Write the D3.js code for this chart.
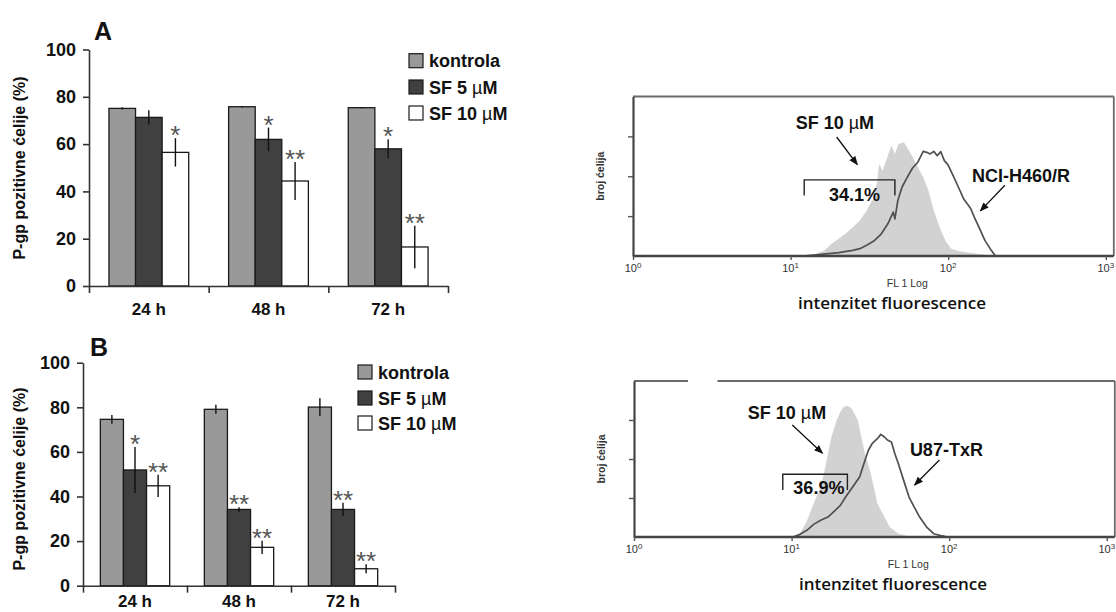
<!DOCTYPE html>
<html><head><meta charset="utf-8">
<script src="https://cdn.jsdelivr.net/npm/d3@7"></script>
<style>body{margin:0;background:#fff} svg{display:block}</style>
</head><body>
<svg id="c" width="1116" height="612"></svg>
<script>
// ---------- DATA ----------
const categories = ["24 h", "48 h", "72 h"];
const seriesNames = ["kontrola", "SF 5 µM", "SF 10 µM"];
const yTicks = [0, 20, 40, 60, 80, 100];

// Panel A (NCI-H460/R)
const aKontrola = [75.1, 75.8, 75.4];
const aKontrolaErr = [0.5, 0.3, 0.3];
const aSF5 = [71.3, 62.0, 58.0];
const aSF5Err = [3, 5, 4];
const aSF10 = [56.5, 44.4, 16.5];
const aSF10Err = [6, 8, 9];
const aSig = [["", "", ""], ["", "*", "*"], ["*", "**", "**"]]; // [series][category]

// Panel B (U87-TxR)
const bKontrola = [74.6, 79.1, 80.1];
const bKontrolaErr = [2, 2, 4];
const bSF5 = [51.9, 34.2, 34.2];
const bSF5Err = [10.3, 1, 3];
const bSF10 = [44.8, 17.2, 7.6];
const bSF10Err = [5, 3, 2];
const bSig = [["", "", ""], ["*", "**", "**"], ["**", "**", "**"]];

// Flow cytometry histograms: [fluorescence (FL1), relative cell count]
const logTicks = [1, 10, 100, 1000];
const countTicks = [25, 50, 75];
const h460SF10 = [[12.0,0],[14.1,0.8],[16.4,3.5],[18.2,7.7],[20.2,10.8],[22.3,14.0],[24.8,18.1],[27.5,22.3],[30.4,28.5],[33.7,36.9],[35.5,47.3],[36.4,57.7],[38.4,53.5],[40.4,59.8],[43.6,69.2],[45.9,64.0],[48.4,70.2],[52.3,71.3],[55.0,68.1],[59.4,62.3],[62.6,57.7],[69.4,49.4],[74.9,41.0],[81.0,28.5],[89.8,16.0],[97.0,8.8],[104.7,4.6],[116.1,3.1],[128.7,2.3],[166.5,1.0],[175.3,0]];
const h460Ctrl = [[12.0,0],[15.6,1.0],[20.2,2.1],[24.8,3.5],[27.5,4.6],[30.4,6.7],[33.7,9.4],[37.4,13.5],[41.4,20.2],[44.8,27.5],[45.9,23.3],[47.9,34.8],[50.9,43.1],[55.0,49.4],[59.4,55.2],[64.2,58.8],[69.4,65.6],[73.0,65.0],[76.9,64.0],[81.0,65.6],[85.2,62.9],[89.8,65.4],[94.5,59.8],[99.5,57.3],[107.5,50.4],[116.1,43.1],[125.4,35.8],[132.1,32.7],[139.1,29.6],[146.4,24.4],[158.2,17.1],[170.9,9.8],[184.6,4.6],[199.4,0]];
const u87SF10 = [[10.2,0],[11.3,2.1],[12.5,10.3],[13.8,21.4],[15.3,32.1],[16.2,42.7],[17.0,53.4],[17.9,64.1],[19.3,74.8],[20.4,80.1],[21.4,83.3],[22.6,84.2],[23.8,82.9],[25.0,79.1],[26.3,74.8],[27.7,64.1],[29.2,53.4],[31.5,42.7],[33.2,32.1],[35.0,21.4],[37.8,15.0],[41.9,6.4],[47.6,2.1],[55.6,0.4],[58.5,0]];
const u87Ctrl = [[10.2,0],[11.3,1.7],[12.5,4.3],[13.8,8.1],[15.3,10.7],[17.0,12.8],[18.9,17.1],[20.4,20.3],[22.0,25.6],[24.4,32.1],[27.0,38.5],[29.2,49.1],[30.7,55.6],[32.4,59.8],[35.0,63.0],[36.8,65.8],[38.8,64.1],[40.8,62.0],[43.0,60.9],[45.2,53.4],[47.6,47.0],[51.4,36.3],[55.6,25.6],[60.0,19.2],[64.9,12.8],[71.9,6.4],[79.7,2.1],[88.4,0.9],[98.0,0]];

// ---------- STYLE ----------
const FONT = "'Liberation Sans', Arial, sans-serif";
const colors = ["#999999", "#404040", "#ffffff"];
const svg = d3.select("#c");

svg.append("defs").append("marker")
  .attr("id", "arr").attr("viewBox", "0 0 10 10").attr("refX", 9).attr("refY", 5)
  .attr("markerWidth", 7).attr("markerHeight", 7).attr("orient", "auto")
  .append("path").attr("d", "M0,1 L10,5 L0,9 Z").attr("fill", "#111");

function drawBarPanel(p) {
  const g = svg.append("g");
  const x = d3.scaleBand().domain(categories).range(p.xRange).paddingInner(1/3).paddingOuter(1/6);
  const xs = d3.scaleBand().domain(seriesNames).range([0, x.bandwidth()]);
  const y = d3.scaleLinear().domain([0, 100]).range(p.yRange);
  const vals = [p.k, p.s5, p.s10];
  const errs = [p.kE, p.s5E, p.s10E];
  const data = [];
  categories.forEach((c, i) => seriesNames.forEach((s, j) =>
    data.push({c, s, j, v: vals[j][i], e: errs[j][i], sig: p.sig[j][i]})));

  g.selectAll("rect.bar").data(data).join("rect").attr("class", "bar")
    .attr("x", d => x(d.c) + xs(d.s)).attr("y", d => y(d.v))
    .attr("width", xs.bandwidth()).attr("height", d => y(0) - y(d.v))
    .attr("fill", d => colors[d.j]).attr("stroke", "#1a1a1a").attr("stroke-width", 1.3);

  const cx = d => x(d.c) + xs(d.s) + xs.bandwidth() / 2;
  g.selectAll("line.err").data(data).join("line").attr("class", "err")
    .attr("x1", cx).attr("x2", cx)
    .attr("y1", d => y(d.v + d.e)).attr("y2", d => y(d.v - d.e))
    .attr("stroke", "#111").attr("stroke-width", 1.4);

  g.selectAll("text.sig").data(data.filter(d => d.sig)).join("text").attr("class", "sig")
    .attr("x", cx).attr("y", d => y(d.v + d.e) + 6)
    .attr("text-anchor", "middle").attr("font-family", FONT).attr("font-size", 26)
    .attr("fill", "#555").text(d => d.sig);

  // y axis
  const ya = g.append("g").attr("transform", `translate(${p.xRange[0]},0)`)
    .call(d3.axisLeft(y).tickValues(yTicks).tickSize(6).tickSizeOuter(0).tickPadding(7));
  ya.select(".domain").attr("stroke", "#333").attr("stroke-width", 1.6);
  ya.selectAll(".tick line").attr("stroke", "#333").attr("stroke-width", 1.6);
  ya.selectAll(".tick text").attr("font-family", FONT).attr("font-weight", "bold")
    .attr("font-size", 18).attr("fill", "#111");

  // x axis with boundary ticks
  const xb = d3.scaleLinear().domain([0, categories.length]).range(p.xRange);
  const xa = g.append("g").attr("transform", `translate(0,${y(0)})`)
    .call(d3.axisBottom(xb).tickValues(d3.range(categories.length + 1)).tickSize(7).tickSizeOuter(0).tickFormat(""));
  xa.select(".domain").attr("stroke", "#333").attr("stroke-width", 1.6);
  xa.selectAll(".tick line").attr("stroke", "#333").attr("stroke-width", 1.6);

  g.selectAll("text.cat").data(categories).join("text").attr("class", "cat")
    .attr("x", d => x(d) + x.bandwidth() / 2).attr("y", y(0) + p.catDy)
    .attr("text-anchor", "middle").attr("font-family", FONT).attr("font-weight", "bold")
    .attr("font-size", 17).attr("fill", "#111").text(d => d);

  // y label
  g.append("text").attr("transform", `translate(${p.yLab[0]},${p.yLab[1]}) rotate(-90)`)
    .attr("text-anchor", "middle").attr("dominant-baseline", "central")
    .attr("font-family", FONT).attr("font-weight", "bold").attr("font-size", 16)
    .attr("fill", "#111").text("P-gp pozitivne ćelije (%)");

  // panel letter
  g.append("text").attr("x", p.letterPos[0]).attr("y", p.letterPos[1])
    .attr("font-family", FONT).attr("font-weight", "bold").attr("font-size", 25)
    .attr("fill", "#111").text(p.letter);

  // legend
  const lg = g.append("g");
  seriesNames.forEach((s, j) => {
    const cy = p.legY[j];
    lg.append("rect").attr("x", p.legX).attr("y", cy - 7).attr("width", 14).attr("height", 14)
      .attr("fill", colors[j]).attr("stroke", "#1a1a1a").attr("stroke-width", 1.2);
    const t = lg.append("text").attr("x", p.legX + 20).attr("y", cy + 6.5)
      .attr("font-family", FONT).attr("font-weight", "bold").attr("font-size", 18).attr("fill", "#111");
    const parts = s.split("µ");
    t.append("tspan").text(parts[0]);
    if (parts.length > 1) {
      t.append("tspan").attr("font-weight", "normal").text("µ");
      t.append("tspan").text(parts[1]);
    }
  });
}

drawBarPanel({
  xRange: [89, 448], yRange: [286, 49.5],
  k: aKontrola, kE: aKontrolaErr, s5: aSF5, s5E: aSF5Err, s10: aSF10, s10E: aSF10Err, sig: aSig,
  catDy: 29, yLab: [19, 168], letter: "A", letterPos: [94, 39.5],
  legX: 409, legY: [60.7, 87, 113]
});
drawBarPanel({
  xRange: [83, 395], yRange: [585.7, 362.7],
  k: bKontrola, kE: bKontrolaErr, s5: bSF5, s5E: bSF5Err, s10: bSF10, s10E: bSF10Err, sig: bSig,
  catDy: 21, yLab: [19, 479], letter: "B", letterPos: [90, 355.5],
  legX: 358, legY: [372, 398, 423]
});

function drawFlow(p) {
  const g = svg.append("g");
  const x = d3.scaleLog().domain([1, 1000]).range(p.xRange);
  const y = d3.scaleLinear().domain([0, 100]).range(p.yRange);
  const right = p.xRange[1] + 8;

  const area = d3.area().x(d => x(d[0])).y0(y(0)).y1(d => y(d[1]));
  g.append("path").datum(p.gray).attr("d", area).attr("fill", "#d2d2d2");
  const line = d3.line().x(d => x(d[0])).y(d => y(d[1]));
  g.append("path").datum(p.dark).attr("d", line).attr("fill", "none")
    .attr("stroke", "#505050").attr("stroke-width", 1.7).attr("stroke-linejoin", "round");

  // frame top & right
  const top = y(100);
  if (p.gap) {
    g.append("line").attr("x1", p.xRange[0]).attr("x2", p.gap[0]).attr("y1", top).attr("y2", top);
    g.append("line").attr("x1", p.gap[1]).attr("x2", right).attr("y1", top).attr("y2", top);
  } else {
    g.append("line").attr("x1", p.xRange[0]).attr("x2", right).attr("y1", top).attr("y2", top);
  }
  g.append("line").attr("x1", right).attr("x2", right).attr("y1", top).attr("y2", y(0));
  g.selectAll("line").attr("stroke", "#6a6a6a").attr("stroke-width", 1.8);

  // y axis
  const ya = g.append("g").attr("transform", `translate(${p.xRange[0]},0)`)
    .call(d3.axisLeft(y).tickValues(countTicks).tickSize(5).tickSizeOuter(0).tickFormat(""));
  ya.select(".domain").attr("stroke", "#444").attr("stroke-width", 2.2);
  ya.selectAll(".tick line").attr("stroke", "#555").attr("stroke-width", 1.4);

  // x axis
  const xa = g.append("g").attr("transform", `translate(0,${y(0)})`)
    .call(d3.axisBottom(x).tickValues(logTicks).tickSize(4).tickSizeOuter(0).tickFormat(""));
  xa.select(".domain").attr("d", `M${p.xRange[0]},0H${right}`).attr("stroke", "#444").attr("stroke-width", 2.4);
  xa.selectAll(".tick line").attr("stroke", "#555").attr("stroke-width", 1.4);

  const tl = g.selectAll("text.lt").data(logTicks).join("text").attr("class", "lt")
    .attr("x", d => x(d)).attr("y", y(0) + 16).attr("text-anchor", "middle")
    .attr("font-family", FONT).attr("font-size", 11).attr("fill", "#333");
  tl.append("tspan").text("10");
  tl.append("tspan").attr("font-size", 8).attr("dy", -4).text(d => Math.round(Math.log10(d)));

  g.append("text").attr("x", x(p.flLab)).attr("y", y(0) + 31).attr("text-anchor", "middle")
    .attr("font-family", FONT).attr("font-size", 10.5).attr("fill", "#333").text("FL 1 Log");
  g.append("text").attr("x", x(p.intLab)).attr("y", y(0) + 53).attr("text-anchor", "middle")
    .attr("font-family", "'Open Sans', sans-serif").attr("font-weight", 600).attr("font-size", 17)
    .attr("fill", "#111").text("intenzitet fluorescence");
  g.append("text").attr("transform", `translate(${p.xRange[0] - 33},${(y(0) + y(100)) / 2}) rotate(-90)`)
    .attr("text-anchor", "middle").attr("dominant-baseline", "central")
    .attr("font-family", FONT).attr("font-weight", "bold").attr("font-size", 10.5)
    .attr("fill", "#333").text("broj ćelija");

  // annotations
  const labelText = (pos, txt) => {
    const t = g.append("text").attr("x", x(pos[0])).attr("y", y(pos[1])).attr("text-anchor", "middle")
      .attr("font-family", FONT).attr("font-weight", "bold").attr("font-size", 18).attr("fill", "#111");
    const parts = txt.split("µ");
    t.append("tspan").text(parts[0]);
    if (parts.length > 1) {
      t.append("tspan").attr("font-weight", "normal").text("µ");
      t.append("tspan").text(parts[1]);
    }
  };
  labelText(p.sfLab, "SF 10 µM");
  labelText(p.cellLab, p.cellName);
  labelText(p.pctLab, p.pct);
  [p.arrow1, p.arrow2].forEach(a => {
    g.append("line").attr("x1", x(a[0][0])).attr("y1", y(a[0][1]))
      .attr("x2", x(a[1][0])).attr("y2", y(a[1][1]))
      .attr("stroke", "#111").attr("stroke-width", 1.3).attr("marker-end", "url(#arr)");
  });
  const b = p.bracket; // [fl0, fl1, countTop, countBottom]
  g.append("path")
    .attr("d", `M${x(b[0])},${y(b[3])}V${y(b[2])}H${x(b[1])}V${y(b[3])}`)
    .attr("fill", "none").attr("stroke", "#222").attr("stroke-width", 1.4);
}

drawFlow({
  xRange: [633, 1105.8], yRange: [256, 96.5],
  gray: h460SF10, dark: h460Ctrl, gap: null,
  flLab: 55, intLab: 44,
  sfLab: [19.1, 79.4], cellLab: [290, 46.3], cellName: "NCI-H460/R",
  pctLab: [25.4, 34.4], pct: "34.1%",
  arrow1: [[19.6, 74.6], [26.5, 57.3]], arrow2: [[229, 44.4], [160, 28.3]],
  bracket: [12.2, 45.9, 47.7, 37.9]
});
drawFlow({
  xRange: [634, 1106.8], yRange: [537, 381],
  gray: u87SF10, dark: u87Ctrl, gap: [688, 717.5],
  flLab: 55, intLab: 44,
  sfLab: [9.35, 75.6], cellLab: [96, 51.9], cellName: "U87-TxR",
  pctLab: [14.9, 27.6], pct: "36.9%",
  arrow1: [[10.1, 71.8], [15.7, 53.7]], arrow2: [[86.7, 49.4], [60.3, 33.3]],
  bracket: [8.79, 22.6, 40.2, 30.2]
});
</script>
</body></html>
